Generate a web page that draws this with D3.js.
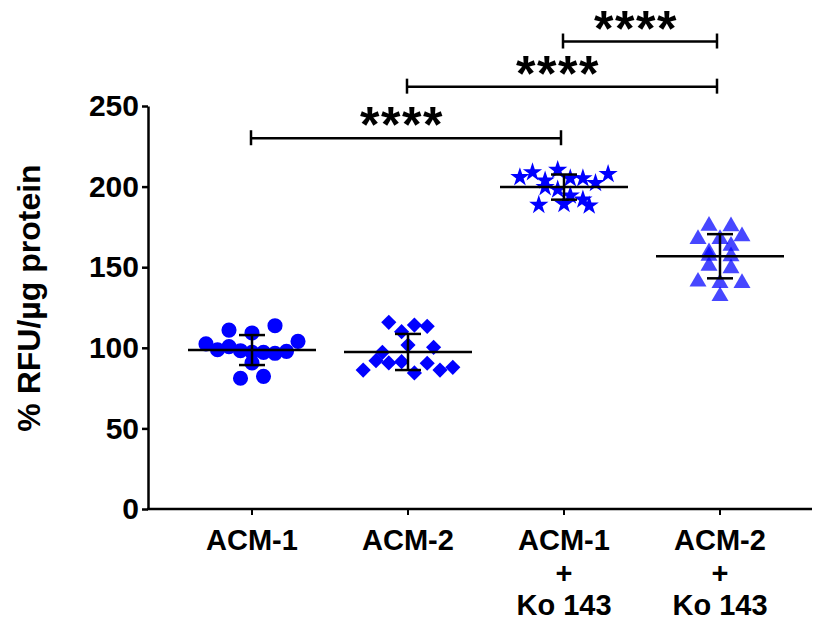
<!DOCTYPE html>
<html>
<head>
<meta charset="utf-8">
<script src="https://cdn.jsdelivr.net/npm/d3@7"></script>
<style>
  body { margin: 0; background: #fff; }
  text { font-family: "Liberation Sans", Arial, sans-serif; font-weight: bold; }
</style>
</head>
<body>
<div id="chart"></div>
<script>
// groups and their label lines
const categories = ["ACM-1", "ACM-2", "ACM-1 + Ko 143", "ACM-2 + Ko 143"];
const labelLines = [["ACM-1"], ["ACM-2"], ["ACM-1", "+", "Ko 143"], ["ACM-2", "+", "Ko 143"]];

// % RFU/µg protein (roughly left to right)
const acm1 = [102.4, 98.8, 111.0, 100.7, 90.6, 98.2, 81.1, 109.2, 97.2, 97.2, 82.3, 113.7, 96.6, 97.8, 104.0];
const acm2 = [97.2, 86.2, 92.0, 115.8, 101.7, 90.6, 110.0, 100.3, 91.4, 114.1, 84.4, 113.3, 90.4, 86.2, 87.9];
const acm1Ko = [205.8, 208.9, 199.6, 188.6, 203.7, 210.3, 198.1, 189.2, 205.1, 194.4, 205.1, 188.2, 202.2, 191.9, 207.8];
const acm2Ko = [167.5, 157.1, 175.7, 150.9, 141.0, 132.0, 167.5, 156.8, 140.2, 169.2, 159.2, 149.3, 140.2, 175.4, 163.3];

// mean and SD bars
const means = [98.6, 97.4, 199.7, 156.8];
const sds = [9.3, 11.2, 7.8, 13.7];

const yTicks = [0, 50, 100, 150, 200, 250];

// significance brackets: from group, to group, level
const brackets = [
  { from: 0, to: 2, level: 230, label: "****" },
  { from: 1, to: 3, level: 262, label: "****" },
  { from: 2, to: 3, level: 290, label: "****" }
];

const series = [acm1, acm2, acm1Ko, acm2Ko];
const shapes = [d3.symbolCircle, "diamond", d3.symbolStar, d3.symbolTriangle];
const fills = ["#0000ff", "#0000ff", "#0000ff", "rgba(0,0,255,0.72)"];
const sizes = [180, 115, 115, 125];
const steps = [11.5, 12.8, 12.6, 11];
const binGap = [8, 8, 8.5, 5];

const W = 820, H = 621;
const svg = d3.select("#chart").append("svg")
  .attr("width", W).attr("height", H);

const x = d3.scalePoint().domain(categories).range([252, 720]);
const y = d3.scaleLinear().domain([0, 250]).range([509, 106]);

// axes
const yAxis = svg.append("g")
  .attr("transform", "translate(148,0)")
  .call(d3.axisLeft(y).tickValues(yTicks).tickSize(6).tickPadding(3).tickSizeOuter(0));
yAxis.select(".domain").attr("stroke-width", 2.5);
yAxis.selectAll(".tick line").attr("stroke-width", 2.5);
yAxis.selectAll(".tick text").attr("font-size", 30).attr("fill", "#000")
  .attr("font-family", "Liberation Sans, Arial, sans-serif");

svg.append("line")
  .attr("x1", 147).attr("x2", 812)
  .attr("y1", y(0)).attr("y2", y(0))
  .attr("stroke", "#000").attr("stroke-width", 2.5);

const xg = svg.append("g");
categories.forEach((c, i) => {
  xg.append("line")
    .attr("x1", x(c)).attr("x2", x(c))
    .attr("y1", y(0)).attr("y2", y(0) + 6)
    .attr("stroke", "#000").attr("stroke-width", 2);
  const t = xg.append("text")
    .attr("text-anchor", "middle")
    .attr("font-size", 29);
  labelLines[i].forEach((ln, j) => {
    t.append("tspan").attr("x", x(c)).attr("y", 550 + j * 32.5).text(ln);
  });
});

svg.append("text")
  .attr("transform", "translate(40,298) rotate(-90)")
  .attr("text-anchor", "middle")
  .attr("font-size", 32)
  .text("% RFU/µg protein");

// place points in rows, GraphPad style
function layout(vals, step, gap) {
  const idx = vals.map((v, i) => i).sort((a, b) => vals[b] - vals[a]);
  const bins = [];
  idx.forEach(i => {
    const last = bins[bins.length - 1];
    if (last && vals[last[0]] - vals[i] <= gap) last.push(i);
    else bins.push([i]);
  });
  const off = new Array(vals.length).fill(0);
  bins.forEach(b => {
    b.sort((p, q) => p - q);
    const s = b.length <= 3 ? step * 2 : step;
    b.forEach((i, k) => { off[i] = (k - (b.length - 1) / 2) * s; });
  });
  return off;
}

series.forEach((vals, g) => {
  const cx = x(categories[g]);
  const off = layout(vals, steps[g], binGap[g]);
  const sym = shapes[g] === "diamond"
    ? d3.symbol().type(d3.symbolSquare).size(sizes[g])
    : d3.symbol().type(shapes[g]).size(sizes[g]);
  svg.append("g").selectAll("path")
    .data(vals)
    .join("path")
    .attr("d", sym)
    .attr("transform", (d, i) => `translate(${cx + off[i]},${y(d)})` + (shapes[g] === "diamond" ? " rotate(45)" : ""))
    .attr("fill", fills[g]);
});

// mean +/- SD
const stats = svg.append("g").attr("stroke", "#000").attr("stroke-width", 2.5);
categories.forEach((c, i) => {
  const cx = x(c);
  stats.append("line").attr("x1", cx - 64).attr("x2", cx + 64)
    .attr("y1", y(means[i])).attr("y2", y(means[i]));
  stats.append("line").attr("x1", cx).attr("x2", cx)
    .attr("y1", y(means[i] - sds[i])).attr("y2", y(means[i] + sds[i]));
  [means[i] - sds[i], means[i] + sds[i]].forEach(v => {
    stats.append("line").attr("x1", cx - 13).attr("x2", cx + 13)
      .attr("y1", y(v)).attr("y2", y(v));
  });
});

// significance brackets
const sig = svg.append("g");
brackets.forEach(b => {
  const x1 = x(categories[b.from]) - 1, x2 = x(categories[b.to]) - 3;
  const yy = y(b.level);
  sig.append("line").attr("x1", x1).attr("x2", x2).attr("y1", yy).attr("y2", yy)
    .attr("stroke", "#000").attr("stroke-width", 2.5);
  [x1, x2].forEach(xx => {
    sig.append("line").attr("x1", xx).attr("x2", xx).attr("y1", yy - 8).attr("y2", yy + 7)
      .attr("stroke", "#000").attr("stroke-width", 2.5);
  });
  sig.append("text")
    .attr("x", (x1 + x2) / 2 - 4).attr("y", yy + 4)
    .attr("text-anchor", "middle")
    .attr("font-size", 50)
    .attr("letter-spacing", 1.5)
    .text(b.label);
});
</script>
</body>
</html>
